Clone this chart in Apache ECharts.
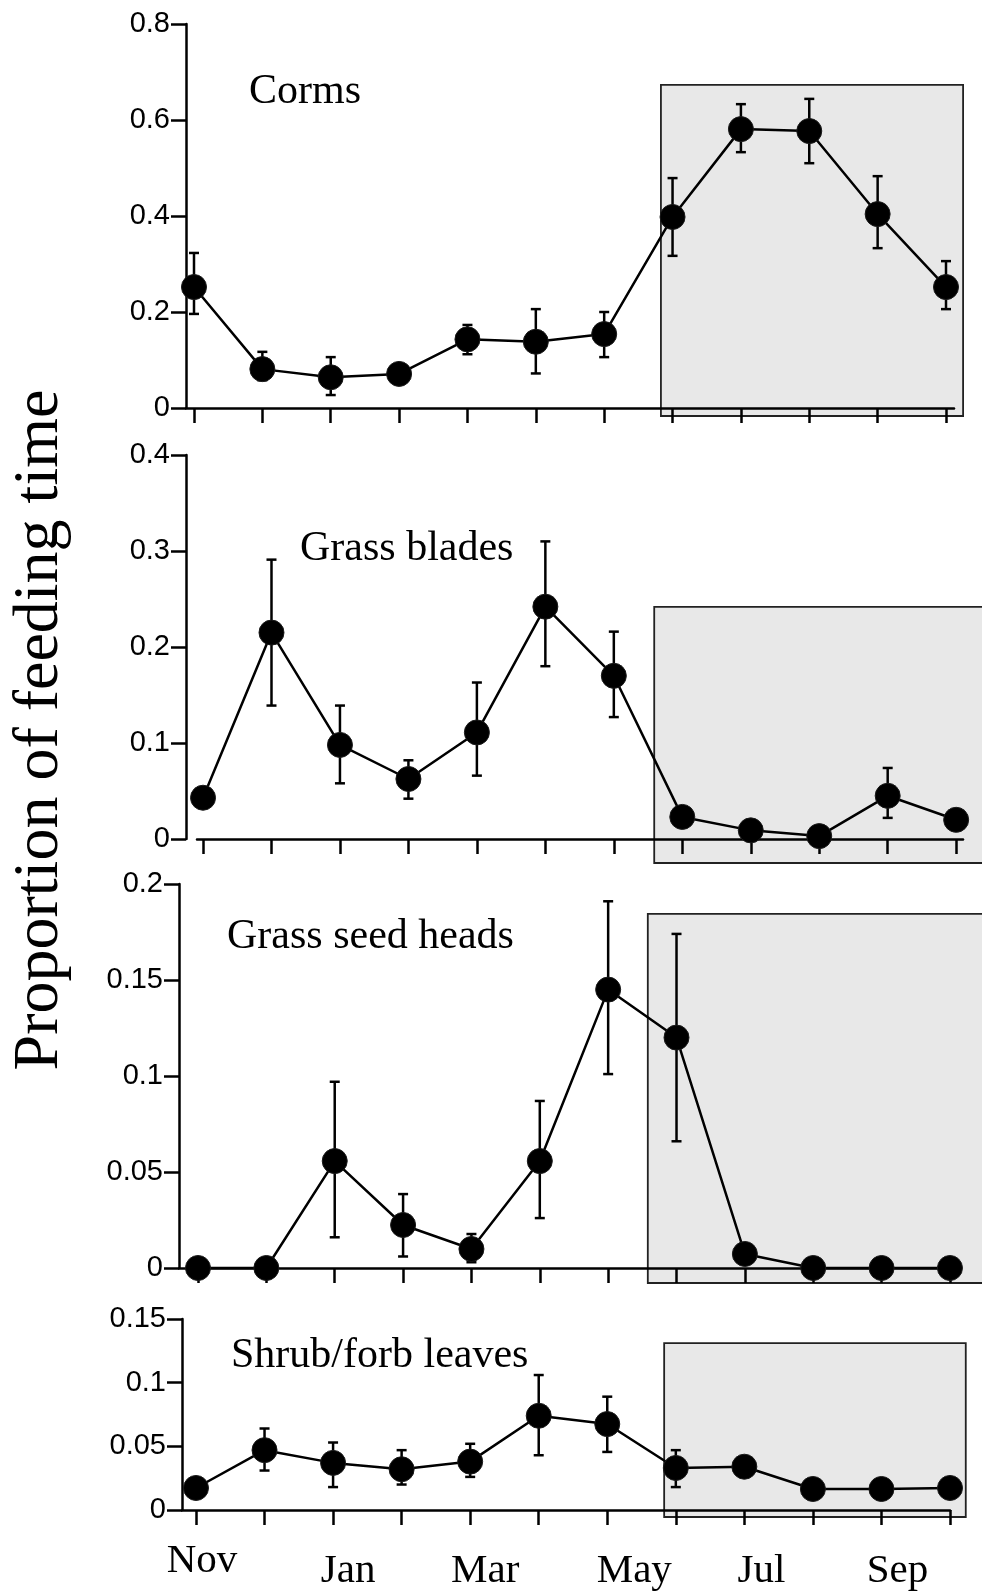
<!DOCTYPE html>
<html><head><meta charset="utf-8">
<script src="https://cdn.jsdelivr.net/npm/echarts@6/dist/echarts.min.js"></script>
<style>html,body{margin:0;padding:0;background:#fff}#c{width:982px;height:1595px}</style>
</head><body><div id="c"></div>
<script>
// ---------- data ----------
const months = ['Nov','Dec','Jan','Feb','Mar','Apr','May','Jun','Jul','Aug','Sep','Oct'];
const monthTickLabels = ['Nov','Jan','Mar','May','Jul','Sep'];
const panelTitles = ['Corms','Grass blades','Grass seed heads','Shrub/forb leaves'];
const yAxisTitle = 'Proportion of feeding time';

const cormsMean = [0.252, 0.081, 0.064, 0.071, 0.143, 0.138, 0.154, 0.398, 0.581, 0.577, 0.404, 0.252];
const cormsHigh = [0.323, 0.117, 0.106, null, 0.173, 0.206, 0.200, 0.479, 0.633, 0.644, 0.483, 0.306];
const cormsLow  = [0.196, 0.058, 0.027, null, 0.112, 0.072, 0.106, 0.317, 0.533, 0.510, 0.333, 0.206];

const bladesMean = [0.043, 0.215, 0.098, 0.0625, 0.111, 0.242, 0.170, 0.023, 0.009, 0.003, 0.045, 0.020];
const bladesHigh = [null, 0.291, 0.139, 0.082, 0.163, 0.310, 0.216, null, null, null, 0.074, null];
const bladesLow  = [null, 0.139, 0.058, 0.042, 0.066, 0.180, 0.127, null, null, null, 0.022, null];

const seedMean = [0, 0, 0.0557, 0.0224, 0.0099, 0.0557, 0.145, 0.120, 0.0073, 0, 0, 0];
const seedHigh = [null, null, 0.097, 0.0385, 0.0177, 0.087, 0.191, 0.174, null, null, null, null];
const seedLow  = [null, null, 0.016, 0.006, 0.003, 0.026, 0.101, 0.066, null, null, null, null];

const shrubMean = [0.0173, 0.047, 0.037, 0.032, 0.038, 0.074, 0.0675, 0.033, 0.034, 0.0165, 0.0165, 0.0173];
const shrubHigh = [null, 0.064, 0.053, 0.047, 0.052, 0.106, 0.089, 0.047, null, null, null, null];
const shrubLow  = [null, 0.031, 0.018, 0.020, 0.026, 0.043, 0.0456, 0.018, null, null, null, null];

// y-axis ranges and tick steps per panel
const yMax = [0.8, 0.4, 0.2, 0.15];
const yStep = [0.2, 0.1, 0.05, 0.05];

// shaded season boxes (month index, proportion): [x0, y0, x1, y1]
const seasonBoxes = [
  [6.83, -0.0167, 11.25, 0.673],
  [6.59, -0.025, 11.6, 0.2417],
  [6.58, -0.0078, 11.6, 0.1844],
  [6.83, -0.0055, 11.23, 0.131]
];

// ---------- layout (pixels) ----------
const layouts = [
  {left:186, right:28, top:24, height:384, xmin:-0.117, xmax:11.117, yOffset:0, titleX:249, titleY:92},
  {left:197, right:19, top:455, height:384, xmin:-0.088, xmax:11.10, yOffset:11, titleX:300, titleY:549},
  {left:179, right:30, top:884, height:384, xmin:-0.278, xmax:11.03, yOffset:0, titleX:227, titleY:937},
  {left:182, right:32, top:1319, height:191, xmin:-0.204, xmax:11.0, yOffset:0, titleX:231, titleY:1356}
];

const means = [cormsMean, bladesMean, seedMean, shrubMean];
const highs = [cormsHigh, bladesHigh, seedHigh, shrubHigh];
const lows  = [cormsLow, bladesLow, seedLow, shrubLow];

const tickIdx = months.map((m,i)=>i);
const labelIdx = monthTickLabels.map(m=>months.indexOf(m));
const labelStyleKey = {Nov:'n', Jan:'a', Mar:'a', May:'m', Jul:'j', Sep:'s'};
const LW = 2.5;

const grid = [], xAxis = [], yAxis = [], series = [], graphic = [];
layouts.forEach((L, k) => {
  grid.push({left:L.left, right:L.right, top:L.top, height:L.height, containLabel:false});
  const isLast = k === layouts.length - 1;
  xAxis.push({
    type:'value', gridIndex:k, min:L.xmin, max:L.xmax,
    axisLine:{show:true, onZero:false, lineStyle:{color:'#000', width:LW}},
    axisTick:{show:true, inside:false, length:15, customValues:tickIdx, lineStyle:{color:'#000', width:LW}},
    axisLabel:{show:isLast, customValues:labelIdx, margin:25,
      formatter: v => { const m = months[Math.round(v)]; return '{' + labelStyleKey[m] + '|' + m + '}'; },
      rich:{
        n:{fontFamily:'Liberation Serif', fontSize:41, color:'#000', padding:[6,0,0,12]},
        a:{fontFamily:'Liberation Serif', fontSize:41, color:'#000', padding:[16,0,0,30]},
        m:{fontFamily:'Liberation Serif', fontSize:41, color:'#000', padding:[16,0,0,54]},
        j:{fontFamily:'Liberation Serif', fontSize:41, color:'#000', padding:[16,0,0,34]},
        s:{fontFamily:'Liberation Serif', fontSize:41, color:'#000', padding:[16,0,0,32]}
      }},
    splitLine:{show:false}
  });
  yAxis.push({
    type:'value', gridIndex:k, min:0, max:yMax[k], interval:yStep[k], offset:L.yOffset,
    axisLine:{show:true, onZero:false, lineStyle:{color:'#000', width:LW}},
    axisTick:{show:true, inside:false, length:15, lineStyle:{color:'#000', width:LW}},
    axisLabel:{fontFamily:'Liberation Sans', fontSize:29, color:'#000', margin:16},
    splitLine:{show:false}
  });
  series.push({
    type:'custom', xAxisIndex:k, yAxisIndex:k, z:-1, clip:false, silent:true,
    data:[seasonBoxes[k]],
    renderItem:(p, api) => {
      const a = api.coord([api.value(0), api.value(1)]);
      const b = api.coord([api.value(2), api.value(3)]);
      return {type:'rect', shape:{x:a[0], y:b[1], width:b[0]-a[0], height:a[1]-b[1]},
        style:{fill:'#e8e8e8', stroke:'#222', lineWidth:1.8}};
    }
  });
  const errData = [];
  means[k].forEach((v,i)=>{ if (highs[k][i] != null) errData.push([i, lows[k][i], highs[k][i]]); });
  series.push({
    type:'custom', xAxisIndex:k, yAxisIndex:k, z:2, clip:false, silent:true,
    data:errData,
    renderItem:(p, api) => {
      const x = api.value(0);
      const lo = api.coord([x, api.value(1)]);
      const hi = api.coord([x, api.value(2)]);
      const w = 5;
      const st = {stroke:'#000', lineWidth:LW};
      return {type:'group', children:[
        {type:'line', shape:{x1:lo[0], y1:lo[1], x2:hi[0], y2:hi[1]}, style:st},
        {type:'line', shape:{x1:lo[0]-w, y1:lo[1], x2:lo[0]+w, y2:lo[1]}, style:st},
        {type:'line', shape:{x1:hi[0]-w, y1:hi[1], x2:hi[0]+w, y2:hi[1]}, style:st}
      ]};
    }
  });
  series.push({
    type:'line', xAxisIndex:k, yAxisIndex:k, z:3, clip:false, silent:true,
    data: means[k].map((v,i)=>[i,v]),
    symbol:'circle', symbolSize:25, showSymbol:true,
    lineStyle:{color:'#000', width:LW},
    itemStyle:{color:'#000', borderColor:'#1a1a1a', borderWidth:1}
  });
  graphic.push({type:'text', x:L.titleX, y:L.titleY,
    style:{text:panelTitles[k], font:'42px "Liberation Serif"', fill:'#000', align:'left', verticalAlign:'middle'}});
});
graphic.push({type:'text', x:40, y:730, rotation:Math.PI/2,
  style:{text:yAxisTitle, font:'64px "Liberation Serif"', fill:'#000', align:'center', verticalAlign:'middle'}});

const chart = echarts.init(document.getElementById('c'));
chart.setOption({animation:false, backgroundColor:'#fff', grid, xAxis, yAxis, series, graphic});
</script></body></html>
